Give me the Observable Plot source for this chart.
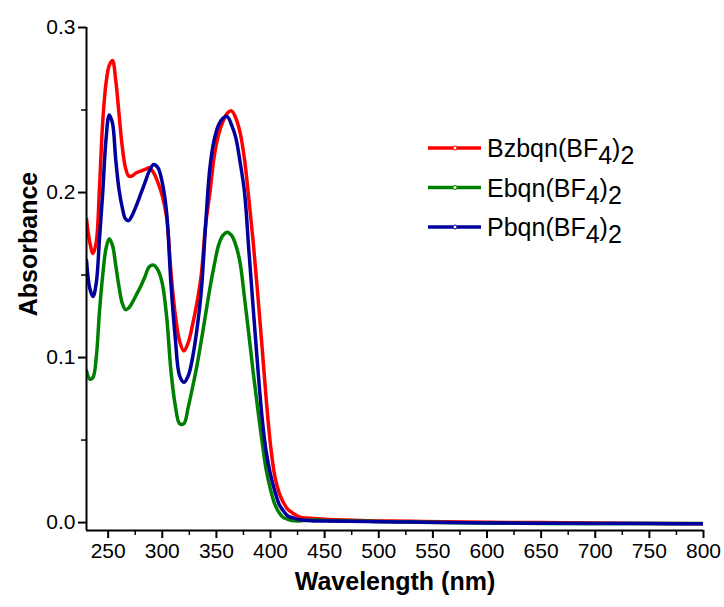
<!DOCTYPE html>
<html><head><meta charset="utf-8">
<script src="https://cdn.jsdelivr.net/npm/d3@7"></script>
<script src="https://cdn.jsdelivr.net/npm/@observablehq/plot@0.6"></script>
<style>body{margin:0;background:#fff;} #chart{width:724px;height:607px;}</style>
</head><body><div id="chart"></div>
<script>
const wavelength = [
  230,233,236,239,242,245,248,251,254,257,
  260,263,266,269,272,276,280,284,288,292,
  296,300,304,308,312,316,320,324,328,332,
  336,340,344,348,352,356,360,364,368,372,
  376,380,384,388,392,396,400,404,408,412,
  416,420,425,430,440,450,470,500,530,560,
  600,650,700,750,800
];
const bzbqn = [
  0.184,0.170,0.163,0.170,0.203,0.243,0.266,0.277,0.280,0.268,
  0.248,0.228,0.215,0.210,0.210,0.212,0.213,0.214,0.215,0.212,
  0.206,0.198,0.185,0.152,0.126,0.110,0.104,0.109,0.120,0.133,
  0.150,0.180,0.200,0.222,0.235,0.243,0.248,0.2495,0.245,0.236,
  0.220,0.196,0.170,0.140,0.108,0.075,0.047,0.028,0.018,0.012,
  0.008,0.006,0.004,0.003,0.0025,0.002,0.0015,0.001,0.0008,0.0005,
  0.0002,0.0,-0.0003,-0.0005,-0.0007
];
const ebqn = [
  0.092,0.087,0.088,0.100,0.128,0.150,0.166,0.172,0.168,0.156,
  0.143,0.133,0.129,0.130,0.133,0.138,0.143,0.149,0.155,0.156,
  0.153,0.145,0.125,0.092,0.071,0.060,0.060,0.070,0.082,0.095,
  0.110,0.126,0.142,0.156,0.168,0.174,0.176,0.174,0.168,0.157,
  0.136,0.114,0.091,0.070,0.050,0.032,0.020,0.011,0.006,0.003,
  0.002,0.0012,0.001,0.0012,0.0015,0.0012,0.001,0.0006,0.0003,0.0,
  -0.0002,-0.0005,-0.0006,-0.0005,-0.0006
];
const pbqn = [
  0.159,0.142,0.137,0.145,0.172,0.200,0.232,0.247,0.242,0.220,
  0.202,0.191,0.184,0.183,0.186,0.192,0.199,0.206,0.213,0.217,
  0.215,0.206,0.188,0.145,0.112,0.089,0.085,0.089,0.100,0.117,
  0.140,0.180,0.215,0.232,0.241,0.245,0.246,0.241,0.233,0.218,
  0.200,0.165,0.130,0.096,0.065,0.043,0.029,0.019,0.011,0.007,
  0.004,0.003,0.002,0.0015,0.001,0.001,0.0008,0.0005,0.0003,0.0001,
  -0.0002,-0.0004,-0.0005,-0.0006,-0.0007
];
const seriesNames = ["Bzbqn", "Ebqn", "Pbqn"];
const seriesColors = ["#ff0000", "#008000", "#00009c"];
const legendLabels = ["Bzbqn(BF", "Ebqn(BF", "Pbqn(BF"];
const xTicks = [250,300,350,400,450,500,550,600,650,700,750,800];
const xMinor = [275,325,375,425,475,525,575,625,675,725,775];
const yTicks = [0,0.1,0.2,0.3];
const yMinor = [0.05,0.15,0.25];

const data = [];
[bzbqn, ebqn, pbqn].forEach((arr, k) =>
  arr.forEach((v, i) => data.push({nm: wavelength[i], a: v, s: seriesNames[k]})));

const font = "Liberation Sans, Arial, sans-serif";
const plot = Plot.plot({
  width: 724, height: 607,
  marginLeft: 86, marginRight: 21, marginTop: 27, marginBottom: 77,
  style: {fontFamily: font, background: "#fff", color: "#000"},
  x: {domain: [230, 800]},
  y: {domain: [-0.0048, 0.3]},
  color: {domain: seriesNames, range: seriesColors},
  marks: [
    Plot.line(data, {x: "nm", y: "a", z: "s", stroke: "s", strokeWidth: 3.5, curve: "catmull-rom", clip: true}),
    Plot.axisX({ticks: xTicks, tickSize: 8, tickPadding: 5, fontSize: 21, label: null, strokeWidth: 2}),
    Plot.axisX({ticks: xMinor, tickSize: 5, text: null, label: null, strokeWidth: 1.5}),
    Plot.axisY({ticks: yTicks, tickSize: 8, tickPadding: 3, fontSize: 21, label: null, strokeWidth: 2, tickFormat: d3.format(".1f")}),
    Plot.axisY({ticks: yMinor, tickSize: 5, text: null, label: null, strokeWidth: 1.5}),
    Plot.ruleX([230], {strokeWidth: 2}),
    Plot.ruleY([-0.0048], {strokeWidth: 2}),
    Plot.text(["Wavelength (nm)"], {frameAnchor: "bottom", dy: 59, fontSize: 25, fontWeight: "bold", letterSpacing: "-0.6px"}),
    Plot.text(["Absorbance"], {frameAnchor: "left", textAnchor: "middle", dx: -58, dy: -35, rotate: -90, fontSize: 25, fontWeight: "bold", letterSpacing: "-0.3px"})
  ]
});
document.getElementById("chart").appendChild(plot);

// legend
const svg = d3.select(plot);
const lg = svg.append("g").attr("font-family", font).attr("font-size", 25).attr("text-anchor", "start");
seriesNames.forEach((name, i) => {
  const y = 148 + i * 39.5;
  lg.append("line").attr("x1", 428).attr("x2", 481).attr("y1", y).attr("y2", y)
    .attr("stroke", seriesColors[i]).attr("stroke-width", 3.5);
  lg.append("circle").attr("cx", 455).attr("cy", y).attr("r", 2)
    .attr("fill", "#fff").attr("stroke", seriesColors[i]).attr("stroke-width", 1);
  const t = lg.append("text").attr("x", 487).attr("y", y + 9).attr("fill", "#000");
  t.append("tspan").text(legendLabels[i]);
  t.append("tspan").attr("dy", 7).text("4");
  t.append("tspan").attr("dy", -7).text(")");
  t.append("tspan").attr("dy", 7).text("2");
});
</script></body></html>
